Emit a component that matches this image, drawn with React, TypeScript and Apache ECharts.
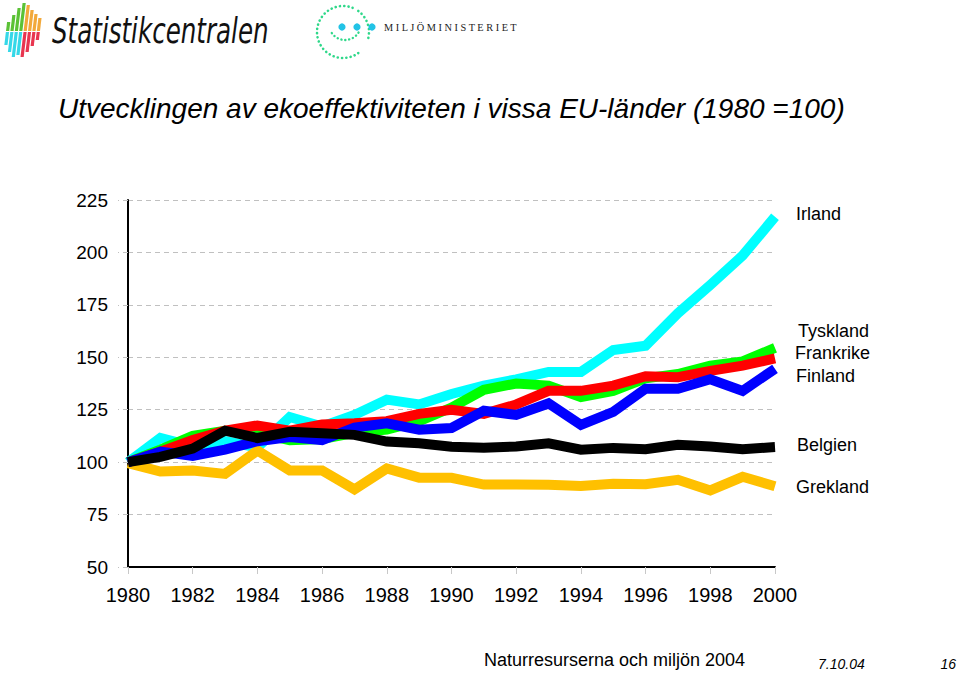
import React, { useEffect, useRef } from "react";
import * as echarts from "echarts";

const years = [
  "1980", "1981", "1982", "1983", "1984", "1985", "1986", "1987", "1988", "1989", "1990",
  "1991", "1992", "1993", "1994", "1995", "1996", "1997", "1998", "1999", "2000",
];
const yTicks = [50, 75, 100, 125, 150, 175, 200, 225];

const irland = [100, 111.5, 107.5, 110, 107, 121.5, 117, 122.5, 129.8, 127.5, 132.5, 136.5, 139.5, 143, 143, 153.5, 155.5, 171, 184.5, 198.5, 217];
const grekland = [99.5, 95.5, 96, 94.4, 105.5, 96, 96, 87, 97, 92.6, 92.5, 89.3, 89.3, 89.2, 88.6, 89.7, 89.5, 91.6, 86.5, 93, 88.5];
const tyskland = [100, 106, 112.5, 115, 114, 110.5, 111, 114, 115.5, 119.5, 126, 134.5, 137.5, 136.5, 131, 134, 140, 142, 146, 148, 154.5];
const frankrike = [100, 105, 110.5, 115, 117.5, 115, 118, 118.5, 119.5, 123, 125, 123, 127.5, 134, 134, 136.5, 141, 140.5, 143.5, 146, 149.5];
const finland = [100, 105, 103, 106, 110, 112, 110.5, 116.5, 118.5, 115.5, 116.3, 124.5, 122.5, 128, 117.8, 124, 135, 135, 139.5, 134, 144.5];
const belgien = [100, 102.5, 106.5, 115, 111.5, 114.5, 113.8, 113, 109.8, 109, 107.3, 106.9, 107.5, 109, 105.9, 106.8, 106.2, 108.3, 107.5, 106.2, 107.2];

const seriesDefs = [
  { name: "Irland", data: irland, color: "#00FFFF" },
  { name: "Grekland", data: grekland, color: "#FFC000" },
  { name: "Tyskland", data: tyskland, color: "#00FF00" },
  { name: "Frankrike", data: frankrike, color: "#FF0000" },
  { name: "Finland", data: finland, color: "#0000FF" },
  { name: "Belgien", data: belgien, color: "#000000" },
];

const endLabels = [
  { text: "Irland", x: 796, y: 214 },
  { text: "Tyskland", x: 798, y: 331 },
  { text: "Frankrike", x: 795, y: 353 },
  { text: "Finland", x: 796, y: 376 },
  { text: "Belgien", x: 797, y: 445 },
  { text: "Grekland", x: 796, y: 487 },
];

const SANS = "'Liberation Sans', Arial, sans-serif";

function logoBars() {
  // Statistikcentralen mark: slanted bars, upper halves green/orange, lower halves cyan/red
  const tops = [22, 15, 8, 3, 5, 10, 14, 18];
  const bottoms = [45, 52, 57, 55, 57, 52, 46, 40];
  const upper = ["#5BC236", "#5BC236", "#5BC236", "#5BC236", "#F2A93B", "#F2A93B", "#F2A93B", "#F2A93B"];
  const lower = ["#35D8E8", "#35D8E8", "#35D8E8", "#35D8E8", "#E8354F", "#E8354F", "#E8354F", "#E8354F"];
  const els: any[] = [];
  const slant = 0.12;
  const mid = 31;
  for (let i = 0; i < 8; i++) {
    const x0 = 6 + i * 4.4;
    const w = 3.2;
    const sx = (y: number) => x0 + (mid - y) * slant;
    els.push({
      type: "polygon",
      shape: { points: [[sx(tops[i]), tops[i]], [sx(tops[i]) + w, tops[i]], [sx(mid) + w, mid], [sx(mid), mid]] },
      style: { fill: upper[i] },
    });
    els.push({
      type: "polygon",
      shape: { points: [[sx(mid + 1), mid + 1], [sx(mid + 1) + w, mid + 1], [sx(bottoms[i]) + w, bottoms[i]], [sx(bottoms[i]), bottoms[i]]] },
      style: { fill: lower[i] },
    });
  }
  return els;
}

export default function App() {
  const ref = useRef<HTMLDivElement>(null);
  useEffect(() => {
    if (!ref.current) return;
    const chart = echarts.init(ref.current, undefined, { renderer: "svg" });
    const dotGreen = "#2FD88A";
    const option: any = {
      animation: false,
      backgroundColor: "#ffffff",
      grid: { left: 128, right: 184, top: 200, bottom: 106, containLabel: false },
      xAxis: {
        type: "category",
        data: years,
        boundaryGap: false,
        axisLine: { show: true, lineStyle: { color: "#000", width: 2 } },
        axisTick: { show: true, interval: 1, length: 7, lineStyle: { color: "#c8c8c8" } },
        axisLabel: { interval: 1, color: "#000", fontSize: 20, fontFamily: SANS, margin: 18 },
        splitLine: { show: false },
      },
      yAxis: {
        type: "value",
        min: 50,
        max: 225,
        interval: 25,
        axisLine: { show: true, lineStyle: { color: "#000", width: 2 } },
        axisTick: { show: true, length: 10, lineStyle: { color: "#c0c0c0", type: [5, 4] } },
        axisLabel: {
          color: "#000",
          fontSize: 19,
          fontFamily: SANS,
          margin: 20,
          formatter: (v: number) => (yTicks.includes(v) ? String(v) : ""),
        },
        splitLine: { show: true, lineStyle: { color: "#c0c0c0", type: [5, 4], width: 1 } },
      },
      series: seriesDefs.map((s) => ({
        name: s.name,
        type: "line",
        data: s.data,
        symbol: "none",
        lineStyle: { color: s.color, width: 10, join: "miter", cap: "butt", miterLimit: 4 },
        itemStyle: { color: s.color },
        z: 2,
      })),
      graphic: [
        ...logoBars(),
        {
          type: "text",
          x: 52,
          y: 31,
          scaleX: 0.78,
          style: {
            text: "Statistikcentralen",
            fontSize: 35,
            fontStyle: "italic",
            fontFamily: "'DejaVu Sans Condensed', 'DejaVu Sans', sans-serif",
            fill: "#111",
            align: "left",
            verticalAlign: "middle",
          },
        },
        {
          type: "arc",
          shape: { cx: 343, cy: 32, r: 26, startAngle: Math.PI * 0.3, endAngle: Math.PI * 1.62, clockwise: true },
          style: { stroke: dotGreen, lineWidth: 2.6, lineDash: [0.1, 4.2], lineCap: "round", fill: null },
        },
        {
          type: "arc",
          shape: { cx: 343, cy: 32, r: 26, startAngle: -Math.PI * 0.3, endAngle: Math.PI * 0.12, clockwise: true },
          style: { stroke: dotGreen, lineWidth: 2.6, lineDash: [0.1, 4.2], lineCap: "round", fill: null },
        },
        {
          type: "arc",
          shape: { cx: 345, cy: 24, r: 16, startAngle: Math.PI * 0.18, endAngle: Math.PI * 0.85, clockwise: true },
          style: { stroke: dotGreen, lineWidth: 2.4, lineDash: [0.1, 3.8], lineCap: "round", fill: null },
        },
        { type: "circle", shape: { cx: 342, cy: 27, r: 3.6 }, style: { fill: "#22C3E6" } },
        { type: "circle", shape: { cx: 357, cy: 27, r: 3.6 }, style: { fill: "#22C3E6" } },
        { type: "circle", shape: { cx: 372, cy: 27, r: 3.6 }, style: { fill: "#22C3E6" } },
        {
          type: "text",
          x: 384,
          y: 27,
          style: {
            text: "M I L J Ö M I N I S T E R I E T",
            fontSize: 10.3,
            fontFamily: "'Liberation Serif', 'DejaVu Serif', serif",
            fill: "#222",
            align: "left",
            verticalAlign: "middle",
          },
        },
        {
          type: "text",
          x: 58,
          y: 108,
          style: {
            text: "Utvecklingen av ekoeffektiviteten i vissa EU-länder (1980 =100)",
            fontSize: 28,
            fontStyle: "italic",
            fontFamily: SANS,
            fill: "#000",
            align: "left",
            verticalAlign: "middle",
          },
        },
        ...endLabels.map((l) => ({
          type: "text",
          x: l.x,
          y: l.y,
          style: { text: l.text, fontSize: 18, fontFamily: SANS, fill: "#000", align: "left", verticalAlign: "middle" },
        })),
        {
          type: "text",
          x: 484,
          y: 660,
          style: { text: "Naturresurserna och miljön 2004", fontSize: 18, fontFamily: SANS, fill: "#000", align: "left", verticalAlign: "middle" },
        },
        {
          type: "text",
          x: 818,
          y: 664,
          style: { text: "7.10.04", fontSize: 14, fontStyle: "italic", fontFamily: SANS, fill: "#000", align: "left", verticalAlign: "middle" },
        },
        {
          type: "text",
          x: 956,
          y: 664,
          style: { text: "16", fontSize: 14, fontStyle: "italic", fontFamily: SANS, fill: "#000", align: "right", verticalAlign: "middle" },
        },
      ],
    };
    chart.setOption(option);
    return () => chart.dispose();
  }, []);
  return (
    <div
      ref={ref}
      style={{ position: "fixed", left: 0, top: 0, width: 959, height: 673, background: "#fff" }}
    />
  );
}
